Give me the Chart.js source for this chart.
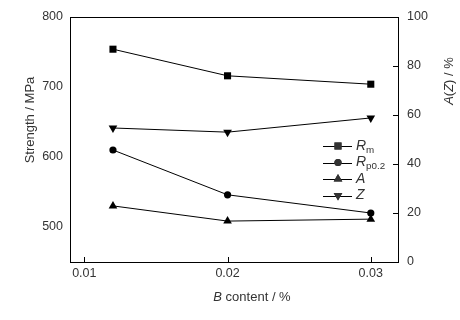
<!DOCTYPE html>
<html>
<head>
<meta charset="utf-8">
<script src="https://cdn.jsdelivr.net/npm/chart.js@4/dist/chart.umd.min.js"></script>
<style>
  html, body { margin: 0; padding: 0; background: #fff; }
  #wrap { width: 460px; height: 320px; }
</style>
</head>
<body>
<div id="wrap"><canvas id="chart" width="460" height="320"></canvas></div>
<script>
// B content (%)
const boron = [0.012, 0.02, 0.03];
// strength, MPa (left axis)
const rm = [754, 716, 704];
const rp02 = [610, 546, 520];
// elongation / reduction of area, % (right axis)
const elongA = [22.9, 16.7, 17.5];
const reductZ = [54.7, 53.0, 58.8];

const xTicks = [0.01, 0.02, 0.03];
const leftTicks = [500, 600, 700, 800];
const rightTicks = [0, 20, 40, 60, 80, 100];

const legendNames = [["R", "m"], ["R", "p0.2"], ["A", ""], ["Z", ""]];

const FONT = "'Liberation Sans', Arial, sans-serif";
const pts = (ys) => boron.map((x, i) => ({ x: x, y: ys[i] }));

const series = (label, ys, axis, style, radius, rot) => ({
  label: label,
  data: pts(ys),
  yAxisID: axis,
  showLine: true,
  borderColor: "#000",
  backgroundColor: "#000",
  borderWidth: 1,
  pointStyle: style,
  pointRadius: radius,
  pointRotation: rot || 0,
  pointBorderWidth: 0,
});

// draw text made of several runs (italic, subscript)
const drawRuns = (ctx, runs, x, y, size, align) => {
  const fontOf = (r) => (r.italic ? "italic " : "") + (r.sub ? size * 0.7 : size) + "px " + FONT;
  let total = 0;
  runs.forEach((r) => { ctx.font = fontOf(r); total += ctx.measureText(r.t).width; });
  let cx = align === "center" ? x - total / 2 : x;
  runs.forEach((r) => {
    ctx.font = fontOf(r);
    ctx.fillText(r.t, cx, r.sub ? y + size * 0.3 : y);
    cx += ctx.measureText(r.t).width;
  });
};

const decor = {
  id: "decor",
  afterDraw(chart) {
    const { ctx, chartArea: a, scales } = chart;
    ctx.save();
    ctx.strokeStyle = "#000";
    ctx.lineWidth = 1;
    ctx.strokeRect(a.left + 0.5, a.top + 0.5, a.right - a.left, a.bottom - a.top);

    // inward ticks
    ctx.beginPath();
    xTicks.forEach((v) => {
      const px = Math.round(scales.x.getPixelForValue(v)) + 0.5;
      ctx.moveTo(px, a.bottom);
      ctx.lineTo(px, a.bottom - 5);
    });
    rightTicks.forEach((v) => {
      const py = Math.round(scales.y2.getPixelForValue(v)) + 0.5;
      ctx.moveTo(a.right, py);
      ctx.lineTo(a.right - 5, py);
    });
    ctx.stroke();

    // axis titles
    ctx.fillStyle = "#333";
    ctx.textBaseline = "middle";
    drawRuns(ctx, [{ t: "B", italic: true }, { t: " content / %" }], 252, 297, 13, "center");

    ctx.save();
    ctx.translate(30, 120);
    ctx.rotate(-Math.PI / 2);
    drawRuns(ctx, [{ t: "Strength / MPa" }], 0, 0, 13, "center");
    ctx.restore();

    ctx.save();
    ctx.translate(449, 81);
    ctx.rotate(-Math.PI / 2);
    drawRuns(ctx, [{ t: "A", italic: true }, { t: "(" }, { t: "Z", italic: true }, { t: ") / %" }], 0, 0, 13, "center");
    ctx.restore();

    // legend
    const lx = 323, ly = 146, step = 16.5;
    chart.data.datasets.forEach((ds, i) => {
      const y = ly + i * step;
      ctx.beginPath();
      ctx.moveTo(lx, Math.round(y) + 0.5);
      ctx.lineTo(lx + 29, Math.round(y) + 0.5);
      ctx.stroke();
      Chart.helpers.drawPoint(ctx, {
        pointStyle: ds.pointStyle,
        rotation: ds.pointRotation,
        radius: ds.pointRadius,
        borderWidth: 0,
      }, lx + 15, y);
      ctx.fill();
      const [main, sub] = legendNames[i];
      const runs = [{ t: main, italic: true }];
      if (sub) runs.push({ t: sub, sub: true });
      drawRuns(ctx, runs, lx + 33, y, 14, "left");
    });
    ctx.restore();
  },
};

const tickFont = { family: FONT, size: 12.5 };
const noGrid = { display: false, drawTicks: false };

new Chart(document.getElementById("chart"), {
  type: "scatter",
  data: {
    datasets: [
      series("Rm", rm, "y", "rect", 5),
      series("Rp0.2", rp02, "y", "circle", 3.6),
      series("A", elongA, "y2", "triangle", 5),
      series("Z", reductZ, "y2", "triangle", 5, 180),
    ],
  },
  options: {
    responsive: false,
    animation: false,
    layout: { padding: { top: 17, left: 0, right: 0, bottom: 0 } },
    plugins: { legend: { display: false }, tooltip: { enabled: false } },
    scales: {
      x: {
        type: "linear",
        min: 0.009,
        max: 0.0319,
        afterBuildTicks: (s) => { s.ticks = xTicks.map((v) => ({ value: v })); },
        afterFit: (s) => { s.height = 58; },
        ticks: { font: tickFont, color: "#333", padding: 4, callback: (v) => v.toFixed(2) },
        grid: noGrid,
        border: { display: false },
      },
      y: {
        position: "left",
        min: 450,
        max: 800,
        afterBuildTicks: (s) => { s.ticks = leftTicks.map((v) => ({ value: v })); },
        afterFit: (s) => { s.width = 70; },
        ticks: { font: tickFont, color: "#333", padding: 7 },
        grid: noGrid,
        border: { display: false },
      },
      y2: {
        position: "right",
        min: 0,
        max: 100,
        afterBuildTicks: (s) => { s.ticks = rightTicks.map((v) => ({ value: v })); },
        afterFit: (s) => { s.width = 62; },
        ticks: { font: tickFont, color: "#333", padding: 9 },
        grid: noGrid,
        border: { display: false },
      },
    },
  },
  plugins: [decor],
});
</script>
</body>
</html>
